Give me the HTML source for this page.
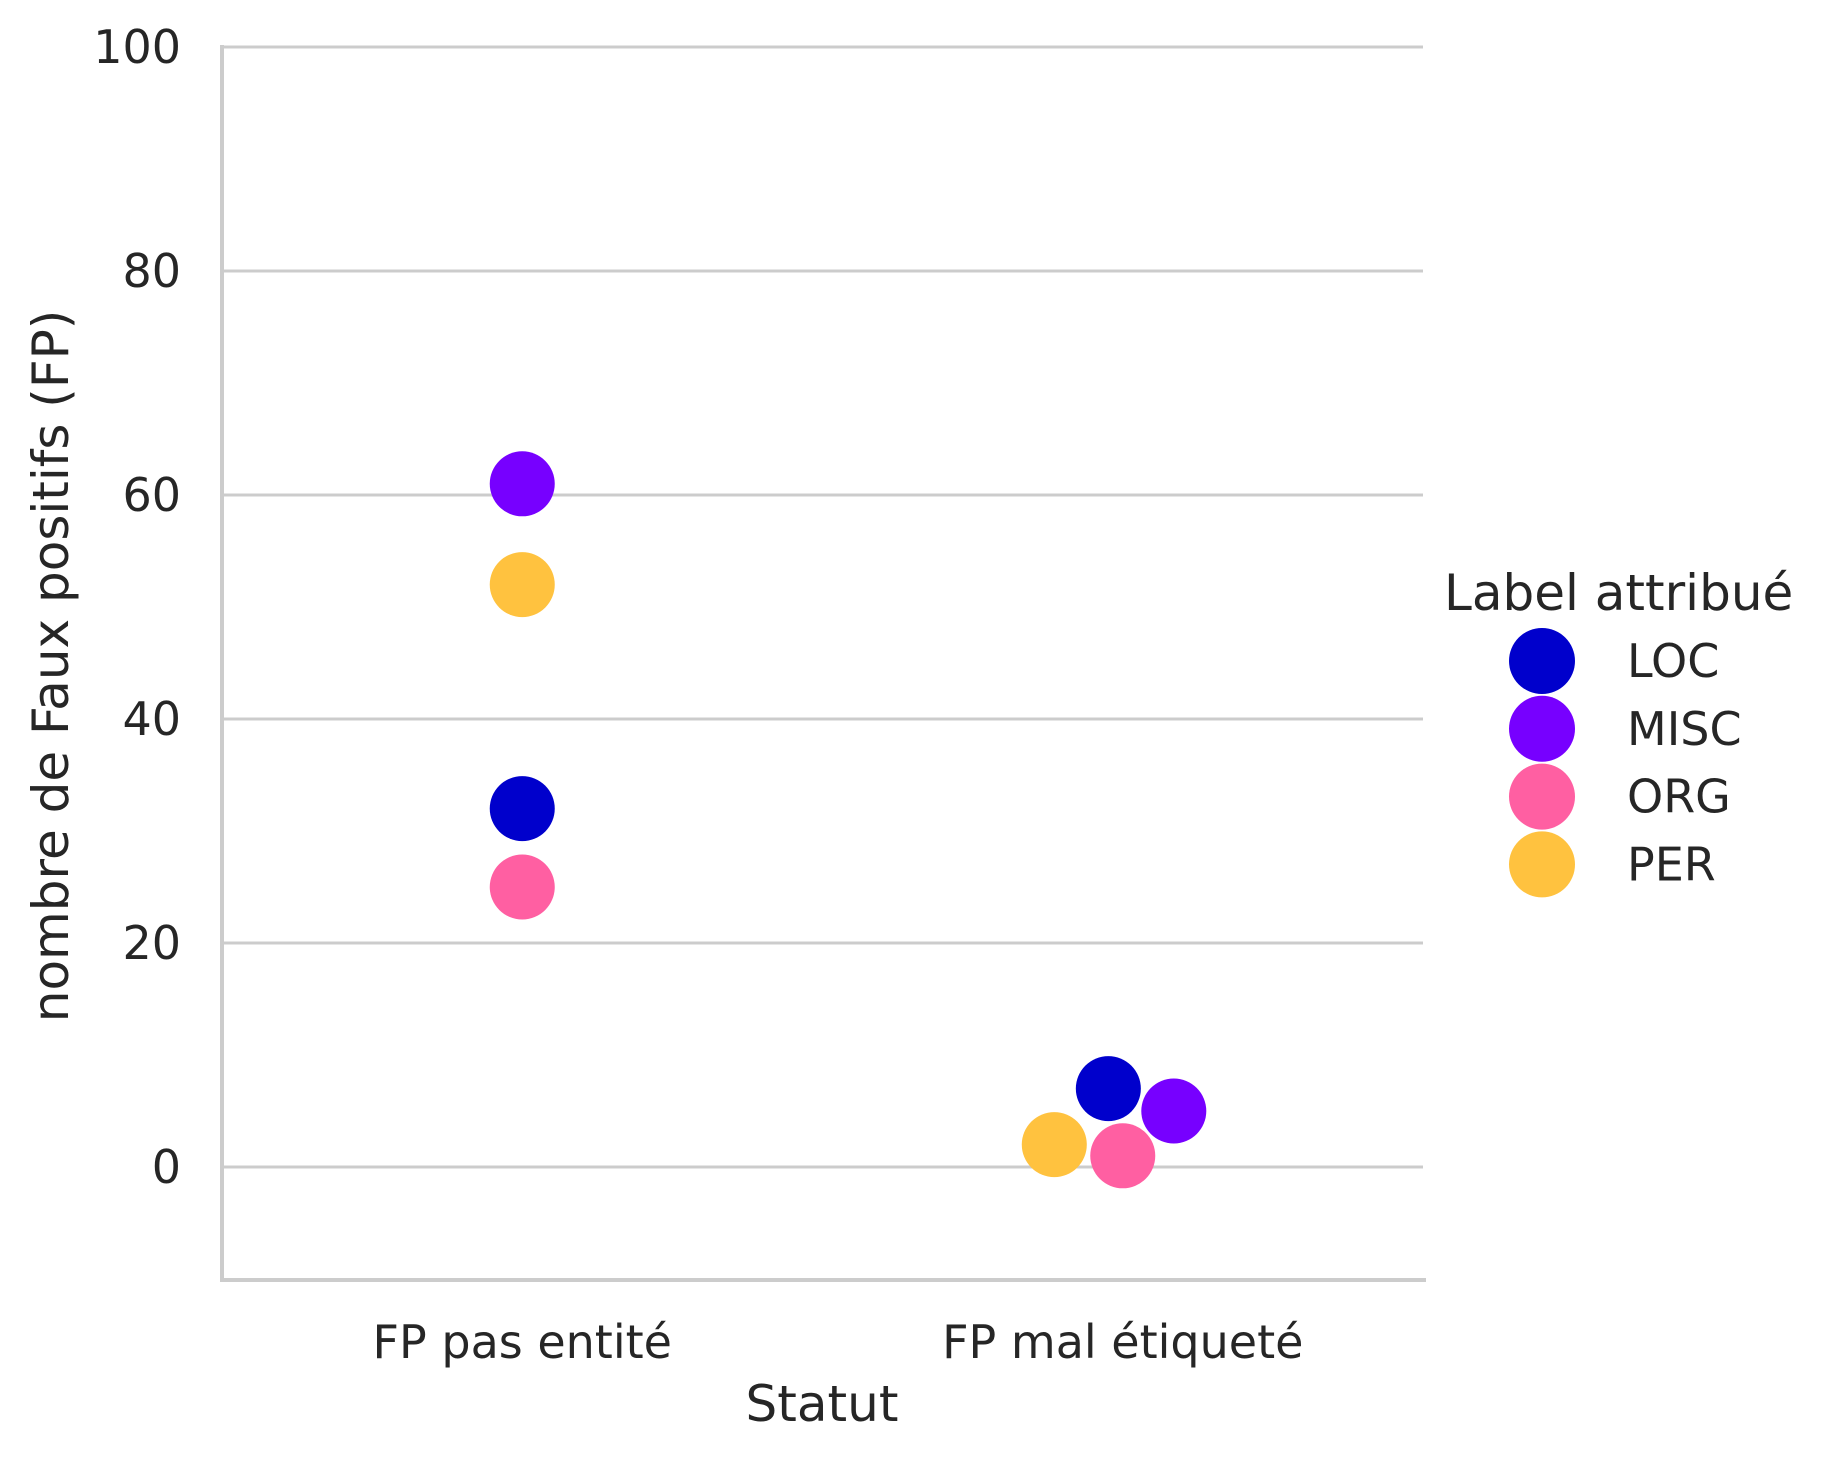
<!DOCTYPE html>
<html><head><meta charset="utf-8"><style>
html,body{margin:0;padding:0;background:#fff;}
svg{display:block;font-family:"DejaVu Sans","Liberation Sans",sans-serif;fill:#262626;}
</style></head><body>
<svg id="chart" width="1833" height="1462" viewBox="0 0 1833 1462" xmlns="http://www.w3.org/2000/svg">
<g id="grid"></g>
<g id="yticks"></g>
<g id="xticks"></g>
<line x1="222" y1="45" x2="222" y2="1281" stroke="#cccccc" stroke-width="4"/>
<line x1="220" y1="1280" x2="1426" y2="1280" stroke="#cccccc" stroke-width="4"/>
<g id="points"></g>
<text x="822" y="1421" font-size="50" text-anchor="middle" fill="#262626">Statut</text>
<text transform="translate(68,666) rotate(-90)" font-size="50" text-anchor="middle" fill="#262626">nombre de Faux positifs (FP)</text>
<g id="legend">
<text x="1444" y="610" font-size="50" fill="#262626">Label attribué</text>
</g>
</svg>
<script>
const categories = ["FP pas entité", "FP mal étiqueté"];
const labels = ["LOC", "MISC", "ORG", "PER"];
const colors = ["#0000cc", "#7700ff", "#ff5fa2", "#ffc23f"];
const valuesPasEntite = [32, 61, 25, 52];
const valuesMalEtiquete = [7, 5, 1, 2];
const swarmOffsets = [[0,0,0,0],[-0.024,0.085,0,-0.114]];
const yTicks = [0, 20, 40, 60, 80, 100];

const NS = "http://www.w3.org/2000/svg";
const x0 = 222, x1 = 1423, yZero = 1167, yHundred = 47;
function yScale(v){ return yZero + (yHundred - yZero) * v / 100; }
function xScale(i){ return x0 + (x1 - x0) * (i + 0.5) / categories.length; }
function mk(tag, attrs, parent){ const e = document.createElementNS(NS, tag); for (const k in attrs) e.setAttribute(k, attrs[k]); parent.appendChild(e); return e; }

const grid = document.getElementById('grid'), yt = document.getElementById('yticks'), xt = document.getElementById('xticks');
yTicks.forEach(t => {
  const l = mk('line', {x1: x0, x2: x1, y1: yScale(t), y2: yScale(t), stroke: '#cccccc', 'stroke-width': 3}, grid);
  
  
  const tx = mk('text', {x: 181, y: yScale(t) + 16, 'font-size': 46, 'text-anchor': 'end'}, yt);
  tx.textContent = t;
  
  
});
categories.forEach((c, i) => {
  const tx = mk('text', {x: xScale(i), y: 1358, 'font-size': 46, 'text-anchor': 'middle'}, xt);
  tx.textContent = c;
  
  
});
const pts = document.getElementById('points');
const series = [valuesPasEntite, valuesMalEtiquete];
const catW = (x1 - x0) / categories.length;
series.forEach((vals, ci) => {
  vals.forEach((v, li) => {
    const cx = xScale(ci) + swarmOffsets[ci][li] * catW;
    const p = mk('circle', {cx: cx, cy: yScale(v), r: 32.5, fill: colors[li]}, pts);
    
    
  });
});
const lg = document.getElementById('legend');
labels.forEach((lab, i) => {
  const cy = 661 + i * 67.8;
  const c = mk('circle', {cx: 1542, cy: cy, r: 33, fill: colors[i]}, lg);
  
  
  const t = mk('text', {x: 1627, y: cy + 16, 'font-size': 46}, lg);
  t.textContent = lab;
  
  
});
</script>
</body></html>
